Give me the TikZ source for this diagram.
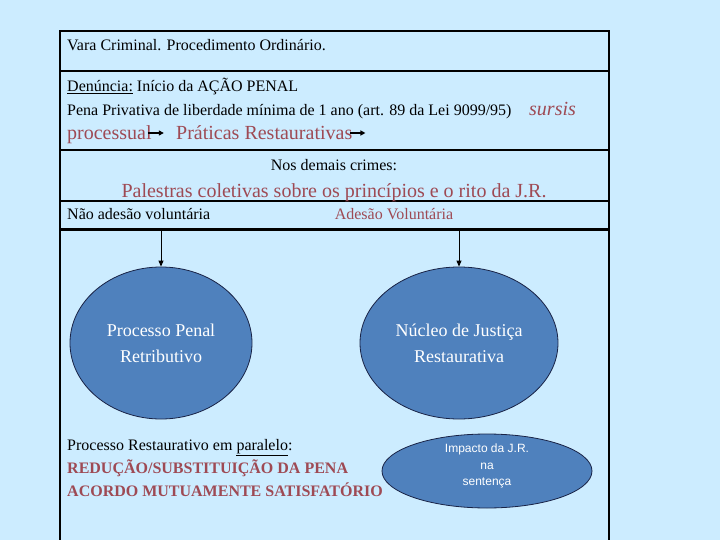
\documentclass[tikz,border=0pt]{standalone}
\usepackage{fontspec}
\setmainfont{Liberation Serif}
\newfontfamily\arialf{Liberation Sans}
\usetikzlibrary{arrows.meta,shapes.geometric}
\definecolor{bg}{RGB}{204,236,255}
\definecolor{redt}{RGB}{158,74,84}
\definecolor{ellfill}{RGB}{79,129,189}
\definecolor{elledge}{RGB}{25,35,70}
\begin{document}
\begin{tikzpicture}[x=1pt,y=-1pt,
  frame/.style={line width=2.6pt,black},
  txt/.style={anchor=base west,inner sep=0pt,font=\fontsize{16}{18}\selectfont},
  ctxt/.style={anchor=base,inner sep=0pt,font=\fontsize{16}{18}\selectfont},
  bigred/.style={anchor=base west,inner sep=0pt,text=redt,font=\fontsize{20}{22}\selectfont},
  bubble/.style={ellipse,draw=elledge,fill=ellfill,line width=0.8pt,text=white,align=center,inner sep=0pt},
  arr/.style={-{Triangle[length=6pt,width=5pt]},line width=0.9pt},
  sarr/.style={-{Triangle[length=5pt,width=5pt]},line width=1.2pt}]
\fill[bg] (0,0) rectangle (720,540);
\useasboundingbox (0,0) rectangle (720,540);
% frame
\draw[frame] (60,541) -- (60,31) -- (609,31) -- (609,541);
\draw[frame] (60,71) -- (609,71);
\draw[frame] (60,150) -- (609,150);
\draw[frame] (60,201) -- (609,201);
\draw[frame] (60,229.5) -- (609,229.5);
% texts
\node[txt] (vara) at (67,51) {Vara Criminal. Procedimento Ordinário.};
\node[txt] (den) at (67,92) {\underline{Denúncia:} Início da AÇÃO PENAL};
\node[txt] (pena) at (67,116) {Pena Privativa de liberdade mínima de 1 ano (art. 89 da Lei 9099/95)};
\node[bigred,font=\itshape\fontsize{20}{22}\selectfont] (sursis) at (529,116) {sursis};
\node[bigred] (proc) at (67,140) {processual};
\node[bigred] (prat) at (176,140) {Práticas Restaurativas};
\coordinate (pa1) at ([xshift=-4pt,yshift=7pt]proc.base east);
\coordinate (pa2) at ([xshift=12pt,yshift=7pt]proc.base east);
\coordinate (pb1) at ([xshift=-2pt,yshift=7pt]prat.base east);
\coordinate (pb2) at ([xshift=13pt,yshift=7pt]prat.base east);
\draw[sarr] (pa1) -- (pa2);
\draw[sarr] (pb1) -- (pb2);
\node[ctxt] (nos) at (334,171) {Nos demais crimes:};
\node[bigred,anchor=base] (pal) at (334,197) {Palestras coletivas sobre os princípios e o rito da J.R.};
\node[txt] (nao) at (67,220) {Não adesão voluntária};
\node[ctxt,text=redt] (ades) at (394,220) {Adesão Voluntária};
% ellipses
\node[bubble,minimum width=182pt,minimum height=152pt,font=\fontsize{18}{26}\selectfont] (ppr) at (161,343) {Processo Penal\\Retributivo};
\node[bubble,minimum width=198pt,minimum height=152pt,font=\fontsize{18}{26}\selectfont] (njr) at (459,343) {Núcleo de Justiça\\Restaurativa};
\node[bubble,minimum width=210pt,minimum height=74pt] (imp) at (487,471) {};
\node[text=white,align=center,inner sep=0pt,font=\arialf\fontsize{12}{16.5}\selectfont] (imptxt) at (487,466) {Impacto da J.R.\\na\\sentença};
\coordinate (c1) at (161,231);
\coordinate (c2) at (459,231);
\draw[arr] (c1) -- (ppr.north);
\draw[arr] (c2) -- (njr.north);
% bottom texts
\node[txt] (prest) at (67,450) {Processo Restaurativo em \underline{paralelo}:};
\node[txt,text=redt,font=\bfseries\fontsize{16}{18}\selectfont] (red) at (67,473) {REDUÇÃO/SUBSTITUIÇÃO DA PENA};
\node[txt,text=redt,font=\bfseries\fontsize{16}{18}\selectfont] (aco) at (67,496) {ACORDO MUTUAMENTE SATISFATÓRIO};
\end{tikzpicture}
\end{document}
